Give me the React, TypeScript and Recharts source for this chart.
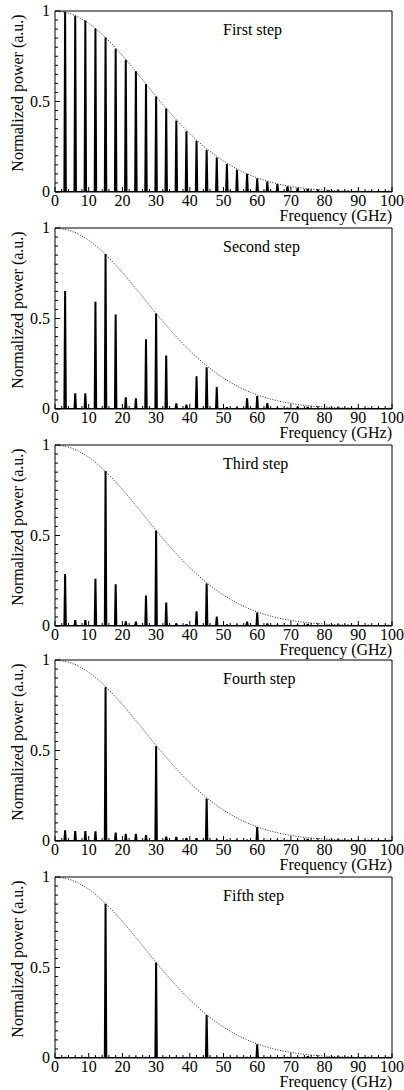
import { ComposedChart, Line, XAxis, YAxis, ReferenceArea } from 'recharts';

// peak positions (GHz) and normalized peak power for each step
const peakFreqs = [
  3, 6, 9, 12, 15, 18, 21, 24, 27, 30, 33, 36, 39, 42, 45, 48, 51,
  54, 57, 60, 63, 66, 69, 72, 75, 78, 81, 84, 87, 90, 93, 96, 99,
];

const firstStep = [
  0.996, 0.974, 0.947, 0.903, 0.853, 0.792, 0.73, 0.667, 0.596, 0.528, 0.461,
  0.395, 0.335, 0.283, 0.233, 0.191, 0.154, 0.123, 0.1, 0.076, 0.058, 0.044,
  0.031, 0.022, 0.016, 0.011, 0.007, 0.005, 0.004, 0.003, 0.003, 0.002, 0.002,
];
const secondStep = [
  0.652, 0.087, 0.087, 0.593, 0.856, 0.522, 0.065, 0.059, 0.385, 0.528, 0.296,
  0.031, 0.024, 0.181, 0.231, 0.122, 0.009, 0.007, 0.059, 0.072, 0.033, 0.004,
  0.004, 0.012, 0.01, 0.004, 0.003, 0.003, 0.002, 0.003, 0.002, 0.002, 0.002,
];
const thirdStep = [
  0.287, 0.033, 0.033, 0.261, 0.857, 0.231, 0.026, 0.024, 0.169, 0.528, 0.13,
  0.013, 0.009, 0.081, 0.235, 0.052, 0.006, 0.004, 0.024, 0.074, 0.013, 0.004,
  0.003, 0.004, 0.01, 0.003, 0.003, 0.002, 0.002, 0.003, 0.002, 0.002, 0.002,
];
const fourthStep = [
  0.059, 0.055, 0.055, 0.053, 0.85, 0.046, 0.04, 0.039, 0.033, 0.523, 0.024,
  0.022, 0.017, 0.015, 0.235, 0.007, 0.005, 0.004, 0.004, 0.077, 0.003, 0.003,
  0.003, 0.003, 0.01, 0.003, 0.002, 0.002, 0.002, 0.002, 0.002, 0.002, 0.002,
];
const fifthStep = [
  0.003, 0.003, 0.003, 0.003, 0.852, 0.003, 0.003, 0.003, 0.003, 0.527, 0.003,
  0.003, 0.003, 0.003, 0.238, 0.003, 0.003, 0.003, 0.003, 0.075, 0.003, 0.003,
  0.003, 0.003, 0.008, 0.003, 0.002, 0.002, 0.002, 0.002, 0.002, 0.002, 0.002,
];

// dotted envelope
const envFreqs = [0, 5, 10, 15, 20, 25, 30, 35, 40, 45, 50, 55, 60, 65, 70, 75, 80, 85, 90, 95, 100];
const envValues = [
  1, 0.982, 0.932, 0.853, 0.754, 0.643, 0.528, 0.42, 0.323, 0.239, 0.171,
  0.118, 0.078, 0.05, 0.031, 0.018, 0.011, 0.006, 0.003, 0.0017, 0.0009,
];

const stepTitles = ['First step', 'Second step', 'Third step', 'Fourth step', 'Fifth step'];
const stepValues = [firstStep, secondStep, thirdStep, fourthStep, fifthStep];

const xTicks = [
  0, 2, 4, 6, 8, 10, 12, 14, 16, 18, 20, 22, 24, 26, 28, 30, 32, 34, 36, 38, 40,
  42, 44, 46, 48, 50, 52, 54, 56, 58, 60, 62, 64, 66, 68, 70, 72, 74, 76, 78, 80,
  82, 84, 86, 88, 90, 92, 94, 96, 98, 100,
];
const yTicks = [
  0, 0.05, 0.1, 0.15, 0.2, 0.25, 0.3, 0.35, 0.4, 0.45, 0.5,
  0.55, 0.6, 0.65, 0.7, 0.75, 0.8, 0.85, 0.9, 0.95, 1,
];

const panelTops = [0, 217, 434, 649, 866];

const FONT = "'Liberation Serif', 'Times New Roman', 'DejaVu Serif', serif";
const textStyle = { fontFamily: FONT, fontSize: 16 };
const HALF_WIDTH = 0.22; // GHz, half width of each drawn spike

const envelope = envFreqs.map((x, i) => ({ x, y: envValues[i] }));

function spikes(values: number[]) {
  const pts: { x: number; y: number }[] = [{ x: 0, y: 0 }];
  peakFreqs.forEach((f, i) => {
    pts.push({ x: f - HALF_WIDTH, y: 0 });
    pts.push({ x: f, y: values[i] });
    pts.push({ x: f + HALF_WIDTH, y: 0 });
  });
  pts.push({ x: 100, y: 0 });
  return pts;
}

const XTick = ({ x, y, payload }: any) => {
  const v = payload.value;
  const major = v % 10 === 0;
  return (
    <g>
      <line x1={x} x2={x} y1={y} y2={y - (major ? 5 : 3)} stroke="#000" />
      {major && (
        <text x={x} y={y + 14} textAnchor="middle" style={textStyle} fill="#000">
          {v}
        </text>
      )}
    </g>
  );
};

const YTick = ({ x, y, payload }: any) => {
  const v = payload.value;
  const major = Math.abs(v * 2 - Math.round(v * 2)) < 1e-9;
  return (
    <g>
      <line x1={x} x2={x + (major ? 5 : 3)} y1={y} y2={y} stroke="#000" />
      {major && (
        <text x={x - 5} y={y + 5} textAnchor="end" style={textStyle} fill="#000">
          {v}
        </text>
      )}
    </g>
  );
};

function Panel({ title, values }: { title: string; values: number[] }) {
  return (
    <ComposedChart width={404} height={227} margin={{ top: 11, right: 12, bottom: 0, left: 0 }}>
      <XAxis
        dataKey="x"
        type="number"
        domain={[0, 100]}
        ticks={xTicks}
        interval={0}
        height={35}
        axisLine={false}
        tickLine={false}
        tickSize={0}
        tickMargin={0}
        tick={<XTick />}
        allowDataOverflow
      />
      <YAxis
        type="number"
        domain={[0, 1]}
        ticks={yTicks}
        interval={0}
        width={55}
        axisLine={false}
        tickLine={false}
        tickSize={0}
        tickMargin={0}
        tick={<YTick />}
        allowDataOverflow
      />
      <ReferenceArea x1={0} x2={100} y1={0} y2={1} fill="none" stroke="#000" strokeWidth={1} />
      <Line
        data={envelope}
        dataKey="y"
        type="monotone"
        stroke="#222"
        strokeWidth={1}
        strokeDasharray="1 1.6"
        dot={false}
        isAnimationActive={false}
      />
      <Line
        data={spikes(values)}
        dataKey="y"
        type="linear"
        stroke="#000"
        strokeWidth={2}
        strokeLinejoin="bevel"
        dot={false}
        isAnimationActive={false}
      />
      <text x={223} y={35} style={textStyle} fill="#000">
        {title}
      </text>
      <text x={23} y={93} transform="rotate(-90, 23, 93)" textAnchor="middle" style={textStyle} fill="#000">
        Normalized power (a.u.)
      </text>
      <text x={392} y={221} textAnchor="end" style={textStyle} fill="#000">
        Frequency (GHz)
      </text>
    </ComposedChart>
  );
}

export default function App() {
  return (
    <div style={{ position: 'absolute', left: 0, top: 0, width: 404, height: 1090, background: '#fff' }}>
      {stepTitles.map((t, i) => (
        <div key={t} style={{ position: 'absolute', left: 0, top: panelTops[i] }}>
          <Panel title={t} values={stepValues[i]} />
        </div>
      ))}
    </div>
  );
}
